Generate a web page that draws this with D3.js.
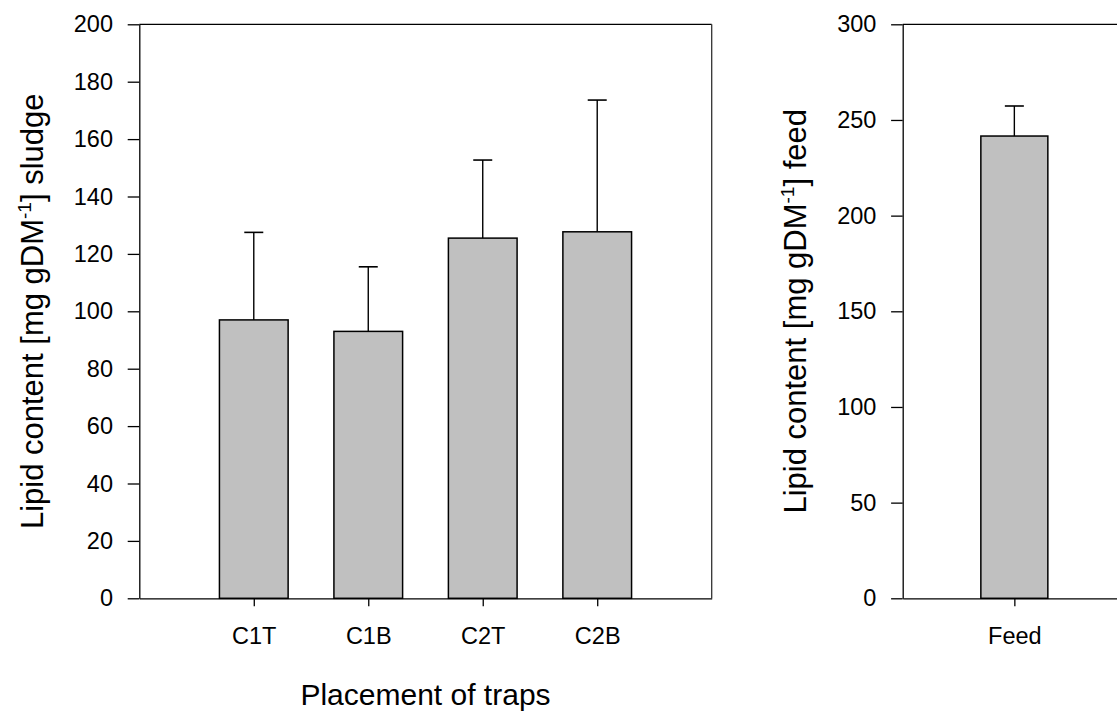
<!DOCTYPE html>
<html>
<head>
<meta charset="utf-8">
<script src="https://cdn.jsdelivr.net/npm/d3@7"></script>
<style>
  body { margin: 0; background: #fff; }
  svg { display: block; font-family: 'Liberation Sans', Arial, sans-serif; }
</style>
</head>
<body>
<div id="container"></div>
<script>
// left panel: lipid content of trap sludge
const trapNames = ['C1T', 'C1B', 'C2T', 'C2B'];
const trapMeans = [97, 93, 125.5, 127.7];
const trapSD = [30.5, 22.5, 27.2, 45.9];
const leftTicks = [0, 20, 40, 60, 80, 100, 120, 140, 160, 180, 200];

// right panel: feed
const feedNames = ['Feed'];
const feedMeans = [241.6];
const feedSD = [15.7];
const rightTicks = [0, 50, 100, 150, 200, 250, 300];

const W = 1117, H = 711;
const plotTop = 24.3, plotBottom = 598.3;

const svg = d3.select('#container').append('svg')
  .attr('width', W)
  .attr('height', H);

function panel(opts) {
  const x = d3.scalePoint().domain(opts.names).range([opts.x0, opts.x1]).padding(1);
  const y = d3.scaleLinear().domain([0, opts.max]).range([plotBottom, plotTop]);
  const bw = x.step() * 0.6;
  const g = svg.append('g');

  // frame (top, right)
  g.append('line')
    .attr('x1', opts.x0).attr('x2', opts.x1)
    .attr('y1', plotTop).attr('y2', plotTop)
    .attr('stroke', '#000').attr('stroke-width', 1.3);
  g.append('line')
    .attr('x1', opts.x1).attr('x2', opts.x1)
    .attr('y1', plotTop).attr('y2', plotBottom)
    .attr('stroke', '#333').attr('stroke-width', 1.3);

  // error bars (upper only)
  const eb = g.append('g').selectAll('g')
    .data(opts.names).enter().append('g');
  eb.append('line')
    .attr('x1', (d) => x(d)).attr('x2', (d) => x(d))
    .attr('y1', (d, i) => y(opts.means[i]))
    .attr('y2', (d, i) => y(opts.means[i] + opts.sd[i]))
    .attr('stroke', '#000').attr('stroke-width', 1.4);
  eb.append('line')
    .attr('x1', (d) => x(d) - 9.5).attr('x2', (d) => x(d) + 9.5)
    .attr('y1', (d, i) => y(opts.means[i] + opts.sd[i]))
    .attr('y2', (d, i) => y(opts.means[i] + opts.sd[i]))
    .attr('stroke', '#000').attr('stroke-width', 1.6);

  // bars
  g.append('g').selectAll('rect')
    .data(opts.names).enter()
    .append('rect')
    .attr('x', (d) => x(d) - bw / 2)
    .attr('width', bw)
    .attr('y', (d, i) => y(opts.means[i]))
    .attr('height', (d, i) => plotBottom - y(opts.means[i]))
    .attr('fill', '#c0c0c0')
    .attr('stroke', '#000')
    .attr('stroke-width', 1.5);

  // y axis
  const ya = g.append('g')
    .attr('transform', `translate(${opts.x0}, 0)`)
    .call(d3.axisLeft(y).tickValues(opts.ticks).tickSize(11.6).tickSizeOuter(0).tickPadding(14.7));
  ya.select('.domain').attr('stroke-width', 1.3);
  ya.selectAll('.tick line').attr('stroke-width', 1.3);
  ya.selectAll('text').style('font-size', '23.5px').attr('fill', '#000');

  // x axis
  const xa = g.append('g')
    .attr('transform', `translate(0, ${plotBottom})`)
    .call(d3.axisBottom(x).tickSize(8).tickSizeOuter(0).tickPadding(21.5));
  xa.select('.domain').attr('stroke-width', 1.3);
  xa.selectAll('.tick line').attr('stroke-width', 1.3);
  xa.selectAll('text').style('font-size', '23.5px').attr('fill', '#000');

  // y title
  const t = g.append('text')
    .attr('transform', `translate(${opts.titleX}, ${(plotTop + plotBottom) / 2}) rotate(-90)`)
    .attr('text-anchor', 'middle')
    .style('font-size', '31px');
  t.append('tspan').text('Lipid content [mg gDM');
  t.append('tspan').attr('dy', -12).style('font-size', '19px').text('-1');
  t.append('tspan').attr('dy', 12).text('] ' + opts.unit);

  return g;
}

panel({
  names: trapNames, means: trapMeans, sd: trapSD, ticks: leftTicks,
  max: 200, x0: 139.3, x1: 711.7, titleX: 43, unit: 'sludge'
});

panel({
  names: feedNames, means: feedMeans, sd: feedSD, ticks: rightTicks,
  max: 300, x0: 902.7, x1: 1126, titleX: 806, unit: 'feed'
});

svg.append('text')
  .attr('x', (139.3 + 711.7) / 2)
  .attr('y', 705)
  .attr('text-anchor', 'middle')
  .style('font-size', '30px')
  .text('Placement of traps');
</script>
</body>
</html>
